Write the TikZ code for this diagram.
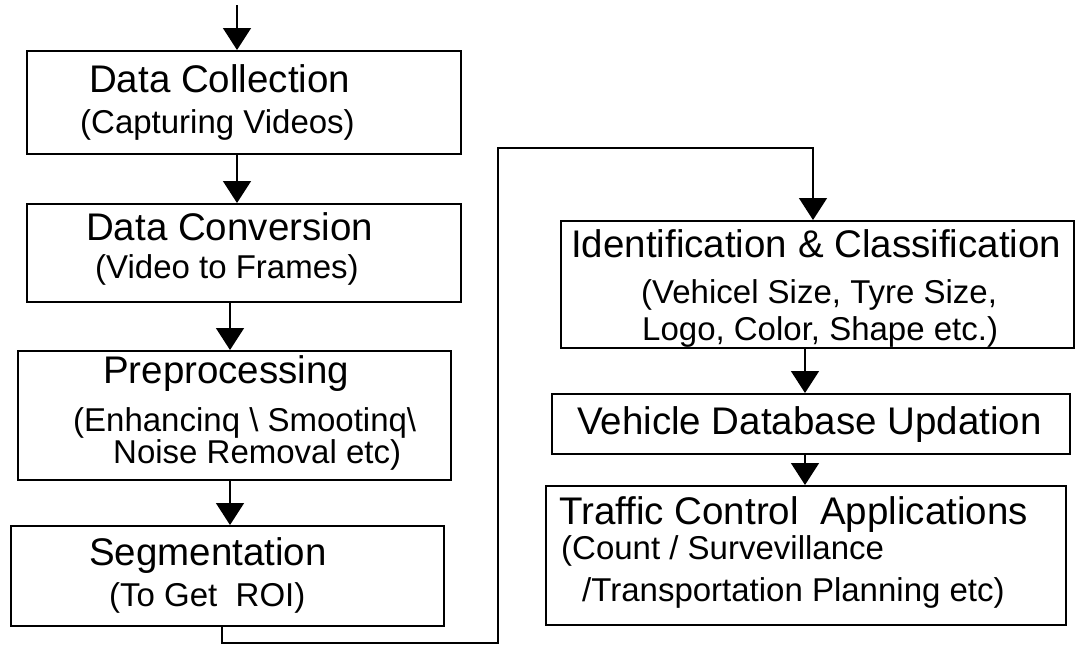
\documentclass[tikz,border=0pt]{standalone}
\usepackage{fontspec}
\setmainfont{Liberation Sans}
\usetikzlibrary{arrows.meta}

\begin{document}
\begin{tikzpicture}[x=1pt,y=-1pt,
	box/.style={draw,line width=2pt,inner sep=0pt},
	head/.style={anchor=base west,inner sep=0pt,font=\fontsize{38.5}{42}\selectfont},
	sub/.style={anchor=base west,inner sep=0pt,font=\fontsize{33}{36}\selectfont},
	flow/.style={line width=1.5pt,-{Triangle[width=28pt,length=22pt]}}]
	\useasboundingbox (0,0) rectangle (1075,645);
	% left column
	\node[box,minimum width=434pt,minimum height=103pt] (collect) at (244,102.5) {};
	\node[box,minimum width=434pt,minimum height=98pt] (convert) at (244,253) {};
	\node[box,minimum width=433pt,minimum height=129pt] (preproc) at (234.5,415.5) {};
	\node[box,minimum width=433pt,minimum height=100pt] (segment) at (227.5,576) {};
	\node[head] (collectH) at (89,92) {Data Collection};
	\node[sub] (collectS) at (80,133) {(Capturing Videos)};
	\node[head] (convertH) at (86,240) {Data Conversion};
	\node[sub] (convertS) at (95,278) {(Video to Frames)};
	\node[head] (preprocH) at (103,383) {Preprocessing};
	\node[sub] (preprocS) at (73,431) {(Enhancinq \textbackslash\ Smootinq\textbackslash};
	\node[sub] (preprocT) at (113,463) {Noise Removal etc)};
	\node[head] (segmentH) at (89,565) {Segmentation};
	\node[sub] (segmentS) at (109,606) {(To Get~~ROI)};
	% right column
	\node[box,minimum width=513pt,minimum height=127pt] (identify) at (817.5,284.5) {};
	\node[box,minimum width=518pt,minimum height=60pt] (database) at (811,424) {};
	\node[box,minimum width=520pt,minimum height=139pt] (traffic) at (806,555.5) {};
	\node[head] (identifyH) at (571,257) {Identification \& Classification};
	\node[sub] (identifyS) at (641,303) {(Vehicel Size, Tyre Size,};
	\node[sub] (identifyT) at (642,340) {Logo, Color, Shape etc.)};
	\node[head] (databaseH) at (577,434) {Vehicle Database Updation};
	\node[head] (trafficH) at (559,524) {Traffic Control~~Applications};
	\node[sub] (trafficS) at (561,559) {(Count / Survevillance};
	\node[sub] (trafficT) at (582,601) {/Transportation Planning etc)};
	% connectors
	\coordinate (entry) at (237,5);
	\coordinate (lane) at (230,0);
	\coordinate (segout) at (222,0);
	\coordinate (turnlo) at (498,643);
	\coordinate (drop) at (813,148);
	\coordinate (rlane) at (805,0);
	\draw[flow] (entry) -- (entry |- collect.north);
	\draw[flow] (collect.south -| entry) -- (convert.north -| entry);
	\draw[flow] (convert.south -| lane) -- (preproc.north -| lane);
	\draw[flow] (preproc.south -| lane) -- (segment.north -| lane);
	\draw[flow] (segment.south -| segout) |- (turnlo) |- (drop) -- (identify.north -| drop);
	\draw[flow] (identify.south -| rlane) -- (database.north -| rlane);
	\draw[flow] (database.south -| rlane) -- (traffic.north -| rlane);
\end{tikzpicture}
\end{document}
